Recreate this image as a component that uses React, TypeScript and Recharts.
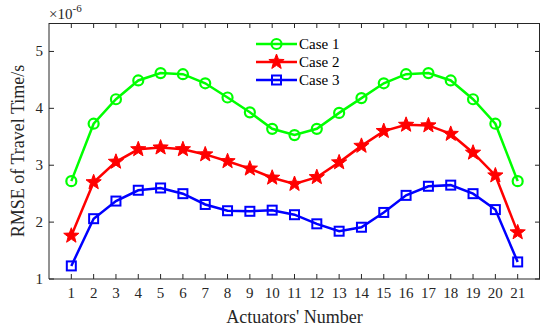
import React from "react";
import { LineChart, Line, XAxis, YAxis } from "recharts";

const actuators = [1, 2, 3, 4, 5, 6, 7, 8, 9, 10, 11, 12, 13, 14, 15, 16, 17, 18, 19, 20, 21];
const case1 = [2.72, 3.73, 4.16, 4.49, 4.62, 4.6, 4.44, 4.19, 3.93, 3.64, 3.53, 3.64, 3.92, 4.18, 4.44, 4.6, 4.62, 4.49, 4.16, 3.73, 2.72];
const case2 = [1.76, 2.7, 3.06, 3.28, 3.31, 3.28, 3.19, 3.07, 2.94, 2.78, 2.67, 2.79, 3.05, 3.34, 3.6, 3.71, 3.7, 3.55, 3.22, 2.82, 1.82];
const case3 = [1.23, 2.06, 2.37, 2.56, 2.6, 2.5, 2.31, 2.2, 2.19, 2.21, 2.13, 1.97, 1.84, 1.91, 2.17, 2.47, 2.63, 2.65, 2.5, 2.22, 1.3];
const yTicks = [1, 2, 3, 4, 5];
const xDomain = [0, 22];
const yDomain = [1, 5.5];

const data = actuators.map((x, i) => ({ x, c1: case1[i], c2: case2[i], c3: case3[i] }));

const GREEN = "#00ff00";
const RED = "#ff0000";
const BLUE = "#0000ff";
const AXIS = "#262626";
const FONT = "'Liberation Serif', 'Times New Roman', serif";

// chart geometry, also used for the box around the plot
const W = 550;
const H = 330;
const MARGIN = { top: 23, right: 10, left: 0, bottom: 0 };
const Y_AXIS_W = 49;
const X_AXIS_H = 51;
const PLOT_W = W - MARGIN.left - MARGIN.right - Y_AXIS_W;
const PLOT_H = H - MARGIN.top - MARGIN.bottom - X_AXIS_H;

function starPath(cx: number, cy: number, r: number) {
  const inner = r * 0.42;
  let d = "";
  for (let k = 0; k < 10; k++) {
    const rad = k % 2 === 0 ? r : inner;
    const a = -Math.PI / 2 + (k * Math.PI) / 5;
    d += (k === 0 ? "M" : "L") + (cx + rad * Math.cos(a)).toFixed(2) + "," + (cy + rad * Math.sin(a)).toFixed(2);
  }
  return d + "Z";
}

function Marker({ kind, cx, cy }: { kind: string; cx: number; cy: number }) {
  if (kind === "c1")
    return <circle cx={cx} cy={cy} r={5} fill="none" stroke={GREEN} strokeWidth={2.2} />;
  if (kind === "c2") return <path d={starPath(cx, cy, 8)} fill={RED} stroke={RED} strokeWidth={1} />;
  return <rect x={cx - 4.5} y={cy - 4.5} width={9} height={9} fill="none" stroke={BLUE} strokeWidth={2} />;
}

const dotFor = (kind: string) => (p: any) =>
  <Marker key={`${kind}-${p.index}`} kind={kind} cx={p.cx} cy={p.cy} />;

const legendItems = [
  { key: "c1", label: "Case 1", color: GREEN },
  { key: "c2", label: "Case 2", color: RED },
  { key: "c3", label: "Case 3", color: BLUE },
];

// legend and plot box drawn in one overlay svg
function Overlay() {
  const left = MARGIN.left + Y_AXIS_W;
  return (
    <svg width={W} height={H} style={{ position: "absolute", left: 0, top: 0, pointerEvents: "none" }}>
      <line x1={left} x2={left + PLOT_W} y1={MARGIN.top + 0.5} y2={MARGIN.top + 0.5} stroke={AXIS} strokeWidth={1} />
      <line
        x1={left + PLOT_W - 0.5}
        x2={left + PLOT_W - 0.5}
        y1={MARGIN.top}
        y2={MARGIN.top + PLOT_H}
        stroke={AXIS}
        strokeWidth={1}
      />
      <g transform="translate(255 35)">
        {legendItems.map((it, i) => {
          const y = 9 + i * 18;
          return (
            <g key={it.key}>
              <line x1={1} x2={42} y1={y} y2={y} stroke={it.color} strokeWidth={2.5} />
              <Marker kind={it.key} cx={21.5} cy={y} />
              <text x={44} y={y + 5} fontSize={15} fontFamily={FONT} fill="#000">
                {it.label}
              </text>
            </g>
          );
        })}
      </g>
    </svg>
  );
}

// inward ticks on all four sides; the top/right ones mirror the bottom/left ones
const bottomTick = (p: any) => (
  <g>
    <line x1={p.x} x2={p.x} y1={p.y} y2={p.y - 5} stroke={AXIS} />
    <line x1={p.x} x2={p.x} y1={p.y - PLOT_H} y2={p.y - PLOT_H + 5} stroke={AXIS} />
    <text x={p.x} y={p.y + 19} textAnchor="middle" fontSize={15} fontFamily={FONT} fill={AXIS}>
      {p.payload.value}
    </text>
  </g>
);
const leftTick = (p: any) => (
  <g>
    <line x1={p.x} x2={p.x + 5} y1={p.y} y2={p.y} stroke={AXIS} />
    <line x1={p.x + PLOT_W} x2={p.x + PLOT_W - 5} y1={p.y} y2={p.y} stroke={AXIS} />
    <text x={p.x - 6} y={p.y + 5} textAnchor="end" fontSize={15} fontFamily={FONT} fill={AXIS}>
      {p.payload.value}
    </text>
  </g>
);

const yLabel = (props: any) => {
  const vb = props.viewBox;
  const cx = vb.x + 20;
  const cy = vb.y + vb.height / 2;
  return (
    <g>
      <text
        x={cx}
        y={cy}
        transform={`rotate(-90 ${cx} ${cy})`}
        textAnchor="middle"
        dominantBaseline="middle"
        fontSize={18}
        fontFamily={FONT}
        fill={AXIS}
      >
        RMSE of Travel Time/s
      </text>
      <text x={vb.x + vb.width} y={vb.y - 4} fontSize={15} fontFamily={FONT} fill={AXIS}>
        ×10
        <tspan dy={-7} fontSize={11}>
          -6
        </tspan>
      </text>
    </g>
  );
};

const xLabel = (props: any) => {
  const vb = props.viewBox;
  return (
    <text x={vb.x + vb.width / 2} y={vb.y + 44} textAnchor="middle" fontSize={18} fontFamily={FONT} fill={AXIS}>
      Actuators' Number
    </text>
  );
};

export default function App() {
  return (
    <div style={{ position: "absolute", left: 0, top: 0, width: W, height: H, background: "#fff" }}>
      <LineChart width={W} height={H} data={data} margin={MARGIN}>
        <XAxis
          dataKey="x"
          type="number"
          domain={xDomain}
          ticks={actuators}
          height={X_AXIS_H}
          tickSize={0}
          tickMargin={0}
          tickLine={false}
          axisLine={{ stroke: AXIS }}
          tick={bottomTick}
          interval={0}
          label={xLabel}
        />
        <YAxis
          type="number"
          domain={yDomain}
          ticks={yTicks}
          width={Y_AXIS_W}
          tickSize={0}
          tickMargin={0}
          tickLine={false}
          axisLine={{ stroke: AXIS }}
          tick={leftTick}
          interval={0}
          label={yLabel}
        />
        <Line dataKey="c1" name="Case 1" stroke={GREEN} strokeWidth={2.5} dot={dotFor("c1")} isAnimationActive={false} />
        <Line dataKey="c2" name="Case 2" stroke={RED} strokeWidth={2.5} dot={dotFor("c2")} isAnimationActive={false} />
        <Line dataKey="c3" name="Case 3" stroke={BLUE} strokeWidth={2.5} dot={dotFor("c3")} isAnimationActive={false} />
      </LineChart>
      <Overlay />
    </div>
  );
}
